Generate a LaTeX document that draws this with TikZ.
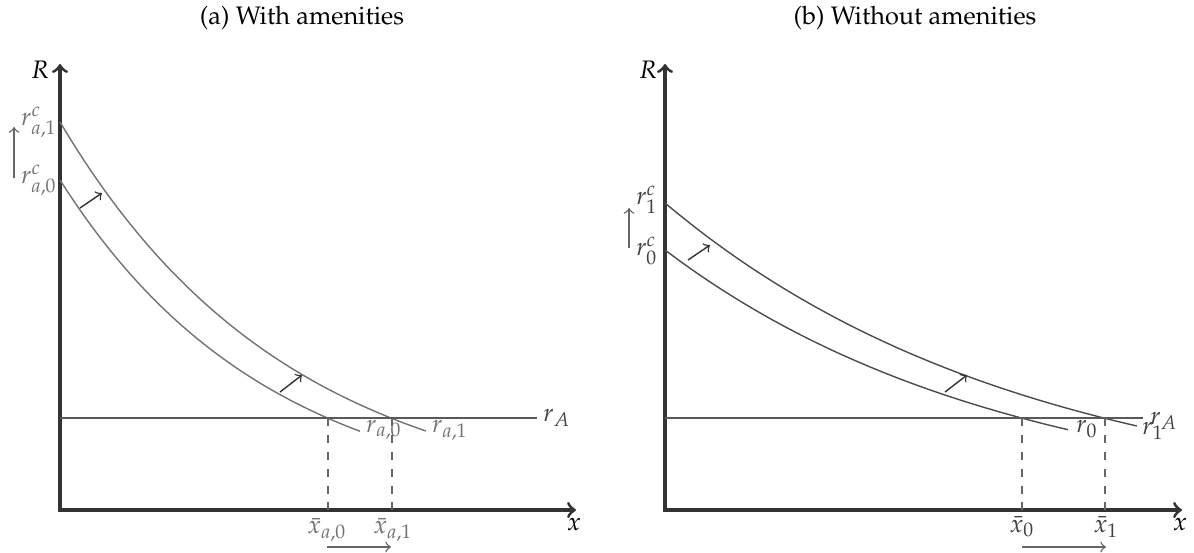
\documentclass[tikz,border=0pt]{standalone}
\usepackage[T1]{fontenc}
\usepackage{mathpazo}
\usepackage{tikz}
\usetikzlibrary{positioning}

\begin{document}
\begin{tikzpicture}[
    x=0.0125cm, y=-0.0125cm,
    font=\fontsize{9}{11}\selectfont,
    axis/.style={draw=black!80, line width=1.1pt, <->},
    curve/.style={draw=black!55, line width=0.5pt},
    curveb/.style={draw=black!70, line width=0.5pt},
    level/.style={draw=black!65, line width=0.5pt},
    push/.style={->, line width=0.5pt, draw=black!80},
    move/.style={->, line width=0.5pt, draw=black!60},
    guide/.style={dashed, draw=black!60, line width=0.4pt},
    lbl/.style={text=black!55, inner sep=1pt},
    lblb/.style={text=black!75, inner sep=1pt}
  ]
  \useasboundingbox (0,0) rectangle (1194,552);

  % (a) with amenities
  \begin{scope}
    \node (ta) at (302,18) {(a) With amenities};

    \coordinate (Oa) at (60,510);
    \coordinate (Ya) at (60,64);
    \coordinate (Xa) at (576,510);
    \draw[axis] (Ya) -- (Oa) -- (Xa);
    \node[inner sep=1pt] (Ra) at (40,70) {$R$};
    \node[inner sep=1pt] (xa) at (574,524) {$x$};

    % bid-rent curves
    \draw[curve] plot[domain=0:300, samples=60, smooth] ({60+\x}, {510-330*exp(-0.00477*\x)});
    \draw[curve] plot[domain=0:366, samples=60, smooth] ({60+\x}, {510-388*exp(-0.00435*\x)});

    % agricultural rent
    \coordinate (la) at (537,418);
    \draw[level] (Oa |- la) -- (la);
    \node[lblb] (rAa) at (557,418) {$r_A$};

    \coordinate (pa0) at (328,418);
    \coordinate (pa1) at (392,418);
    \draw[guide] (pa0) -- (pa0 |- Oa);
    \draw[guide] (pa1) -- (pa1 |- Oa);

    \node[lbl] (ra0) at (384,430) {$r_{a,0}$};
    \node[lbl] (ra1) at (450,430) {$r_{a,1}$};
    \node[lbl] (xa0) at (327,530) {$\bar{x}_{a,0}$};
    \node[lbl] (xa1) at (393,530) {$\bar{x}_{a,1}$};
    \node[lbl] (rca1) at (39,122) {$r^{c}_{a,1}$};
    \node[lbl] (rca0) at (39,180) {$r^{c}_{a,0}$};

    \draw[push] (80,208) -- (102,193);
    \draw[push] (280,392) -- (302,375);
    \draw[move] (14,178) -- (14,127);
    \draw[move] (327,547) -- (391,547);
  \end{scope}

  % (b) without amenities
  \begin{scope}
    \node (tb) at (915,18) {(b) Without amenities};

    \coordinate (Ob) at (665,510);
    \coordinate (Yb) at (665,64);
    \coordinate (Xb) at (1182,510);
    \draw[axis] (Yb) -- (Ob) -- (Xb);
    \node[inner sep=1pt] (Rb) at (648,70) {$R$};
    \node[inner sep=1pt] (xb) at (1180,524) {$x$};

    % bid-rent curves
    \draw[curveb] plot[domain=0:403, samples=60, smooth] ({665+\x}, {510-260*exp(-0.00292*\x)});
    \draw[curveb] plot[domain=0:472, samples=60, smooth] ({665+\x}, {510-307*exp(-0.002746*\x)});

    % agricultural rent
    \coordinate (lb) at (1143,418);
    \draw[level] (Ob |- lb) -- (lb);
    \node[lblb, anchor=west] (rAb) at (1147,421) {$r_A$};

    \coordinate (pb0) at (1022,418);
    \coordinate (pb1) at (1105,418);
    \draw[guide] (pb0) -- (pb0 |- Ob);
    \draw[guide] (pb1) -- (pb1 |- Ob);

    \node[lblb] (rb0) at (1087,429) {$r_0$};
    \node[lblb] (rb1) at (1153,431) {$r_1$};
    \node[lblb] (xb0) at (1022,527) {$\bar{x}_0$};
    \node[lblb] (xb1) at (1106,527) {$\bar{x}_1$};
    \node[lblb] (rcb1) at (647,200) {$r^{c}_{1}$};
    \node[lblb] (rcb0) at (647,251) {$r^{c}_{0}$};

    \draw[push] (688,260) -- (710,245);
    \draw[push] (945,392) -- (967,375);
    \draw[move] (629,248) -- (629,208);
    \draw[move] (1022,547) -- (1106,547);
  \end{scope}
\end{tikzpicture}
\end{document}
